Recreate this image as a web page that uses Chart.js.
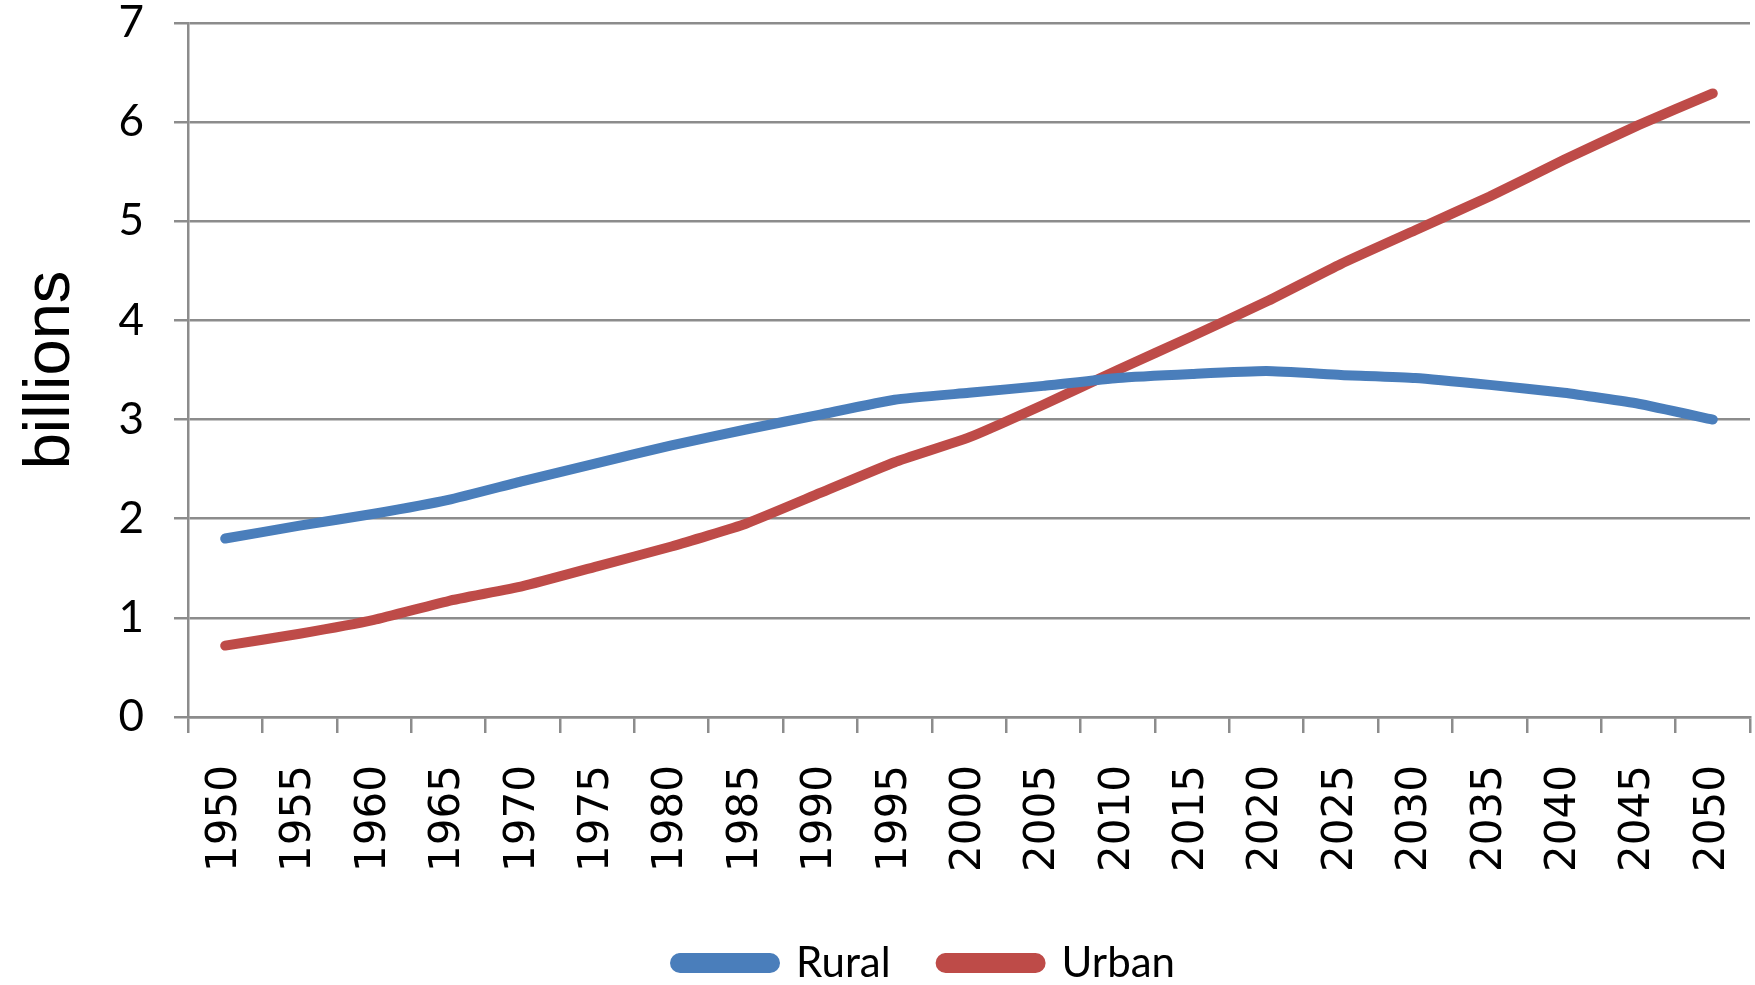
<!DOCTYPE html>
<html>
<head>
<meta charset="utf-8">
<script src="https://cdn.jsdelivr.net/npm/chart.js@4/dist/chart.umd.min.js"></script>
<style>
  html, body { margin: 0; padding: 0; background: #fff; }
  #wrap { width: 1755px; height: 985px; }
</style>
</head>
<body>
<div id="wrap"><canvas id="popChart" width="1755" height="985"></canvas></div>
<script>
// years on the x axis
const years = ['1950', '1955', '1960', '1965', '1970', '1975', '1980', '1985', '1990', '1995',
  '2000', '2005', '2010', '2015', '2020', '2025', '2030', '2035', '2040', '2045', '2050'];

// billions
const rural = [1.80, 1.93, 2.05, 2.19, 2.38, 2.56, 2.74, 2.90, 3.05, 3.20,
  3.27, 3.34, 3.42, 3.46, 3.49, 3.45, 3.42, 3.35, 3.27, 3.16, 3.00];
const urban = [0.72, 0.84, 0.98, 1.17, 1.32, 1.52, 1.72, 1.95, 2.26, 2.57,
  2.82, 3.15, 3.50, 3.84, 4.19, 4.57, 4.91, 5.25, 5.62, 5.97, 6.29];

const yTicks = [0, 1, 2, 3, 4, 5, 6, 7];

const axisGrey = '#8c8c8c';

// nudge the legend a bit right and down, like the original
const legendNudge = {
  id: 'legendNudge',
  afterLayout(chart) {
    const lg = chart.legend;
    if (!lg) return;
    lg.left += 50;
    lg.right += 50;
    lg.top += 9;
    lg.bottom += 9;
  }
};

window.addEventListener('DOMContentLoaded', () => {
  const ctx = document.getElementById('popChart').getContext('2d');

  new Chart(ctx, {
    type: 'line',
    data: {
      labels: years,
      datasets: [
        {
          label: 'Rural',
          data: rural,
          borderColor: '#4a7ebb',
          backgroundColor: '#4a7ebb',
          borderWidth: 10,
          borderCapStyle: 'round',
          borderJoinStyle: 'round',
          pointRadius: 0,
          tension: 0.15
        },
        {
          label: 'Urban',
          data: urban,
          borderColor: '#be4b48',
          backgroundColor: '#be4b48',
          borderWidth: 10,
          borderCapStyle: 'round',
          borderJoinStyle: 'round',
          pointRadius: 0,
          tension: 0.15
        }
      ]
    },
    plugins: [legendNudge],
    options: {
      responsive: false,
      animation: false,
      layout: { padding: { left: 0, right: 5, top: 23, bottom: 0 } },
      plugins: {
        tooltip: { enabled: false },
        legend: {
          position: 'bottom',
          labels: {
            color: '#000',
            font: { family: 'Lato', size: 42 },
            boxWidth: 100,
            boxHeight: 10,
            useBorderRadius: true,
            borderRadius: 5,
            padding: 50
          }
        }
      },
      scales: {
        x: {
          offset: true,
          grid: {
            offset: true,
            drawOnChartArea: false,
            drawTicks: true,
            tickLength: 16,
            color: axisGrey,
            lineWidth: 2.5
          },
          border: { color: axisGrey, width: 2.5 },
          ticks: {
            color: '#000',
            font: { family: 'DejaVu Sans', size: 42 },
            minRotation: 90,
            maxRotation: 90,
            autoSkip: false,
            padding: 32
          },
          afterFit: (scale) => {
            scale.height = 166;
            scale.paddingLeft = 0;
            scale.paddingRight = 0;
          }
        },
        y: {
          min: 0,
          max: 7,
          afterBuildTicks: (scale) => { scale.ticks = yTicks.map(v => ({ value: v })); },
          grid: {
            color: axisGrey,
            lineWidth: 2.5,
            tickLength: 14
          },
          border: { color: axisGrey, width: 2.5 },
          ticks: {
            color: '#000',
            font: { family: 'Lato', size: 44 },
            padding: 30
          },
          title: {
            display: true,
            text: 'billions',
            color: '#000',
            font: { family: 'Liberation Sans', size: 65 },
            padding: { top: 12, bottom: 0 }
          },
          afterFit: (scale) => {
            scale.width = 188;
            scale.paddingTop = 0;
            scale.paddingBottom = 0;
          }
        }
      }
    }
  });
});
</script>
</body>
</html>
